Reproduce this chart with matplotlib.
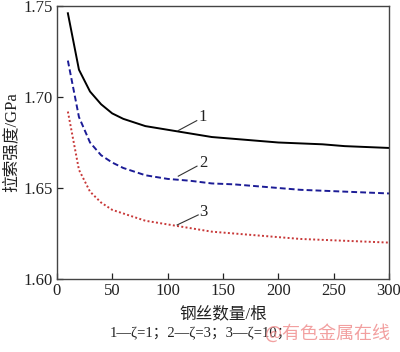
import matplotlib
matplotlib.use("Agg")
import matplotlib.pyplot as plt

x = [10, 20, 30, 40, 50, 60, 70, 80, 90, 100, 120, 140, 160, 180, 200, 220, 240, 260, 280, 300]
c1 = [1.746, 1.715, 1.703, 1.696, 1.691, 1.688, 1.686, 1.684, 1.683, 1.682, 1.680, 1.678, 1.677,
      1.676, 1.675, 1.6745, 1.674, 1.673, 1.6725, 1.672]
c2 = [1.720, 1.689, 1.675, 1.668, 1.664, 1.661, 1.659, 1.657, 1.656, 1.655, 1.654, 1.6525, 1.652,
      1.651, 1.650, 1.649, 1.6485, 1.648, 1.6475, 1.647]
c3 = [1.692, 1.660, 1.648, 1.642, 1.638, 1.636, 1.634, 1.632, 1.631, 1.630, 1.628, 1.626, 1.625,
      1.624, 1.623, 1.622, 1.6215, 1.621, 1.6205, 1.620]
labels = ["1", "2", "3"]
xticks = [0, 50, 100, 150, 200, 250, 300]
yticks = [1.60, 1.65, 1.70, 1.75]

serif = ["Liberation Serif", "Noto Sans CJK SC", "DejaVu Sans"]
plt.rcParams["font.family"] = serif

fig = plt.figure(figsize=(4.0, 3.52), dpi=100)
ax = fig.add_axes([0.142, 0.2074, 0.8305, 0.7756])

ax.plot(x, c1, color="black", lw=1.4, ls="-")
ax.plot(x, c2, color="#1c1c96", lw=1.4, ls=(0, (3.0, 1.6)))
ax.plot(x, c3, color="#c83838", lw=1.4, ls=(0, (1, 1.2)))

# labels with leader lines
lab_y = [1.689, 1.6637, 1.6368]
lead = [((109.5, 1.6815), (126.4, 1.687)),
        ((109.7, 1.6565), (126.6, 1.662)),
        ((108.7, 1.6297), (127.7, 1.6352))]
for t, ly, (p0, p1) in zip(labels, lab_y, lead):
    ax.plot([p0[0], p1[0]], [p0[1], p1[1]], color="#333333", lw=0.8)
    ax.text(132, ly, t, fontsize=12, ha="center", va="center", color="#222222")

ax.set_xlim(0, 300)
ax.set_ylim(1.60, 1.75)
ax.set_xticks(xticks)
ax.set_yticks(yticks)
ax.set_yticklabels([f"{v:.2f}" for v in yticks])
ax.tick_params(direction="in", length=4, width=0.9, labelsize=12, colors="#222222", pad=3)
for s in ax.spines.values():
    s.set_color("#444444")
    s.set_linewidth(1.0)

ax.set_xlabel("钢丝数量/根", fontsize=12, labelpad=5, color="#222222")
ax.set_ylabel("拉索强度/GPa", fontsize=12, labelpad=3, color="#222222")

fig.text(0.275, 0.053, "1—ζ=1；2—ζ=3；3—ζ=10；", fontsize=10.5, ha="left", va="center", color="#222222")
fig.text(0.82, 0.053, "@有色金属在线", fontsize=13, ha="center", va="center",
         color="#f09090", alpha=0.85, family=["Noto Sans CJK SC", "DejaVu Sans"])

fig.savefig("out.png", dpi=100, facecolor="white")
